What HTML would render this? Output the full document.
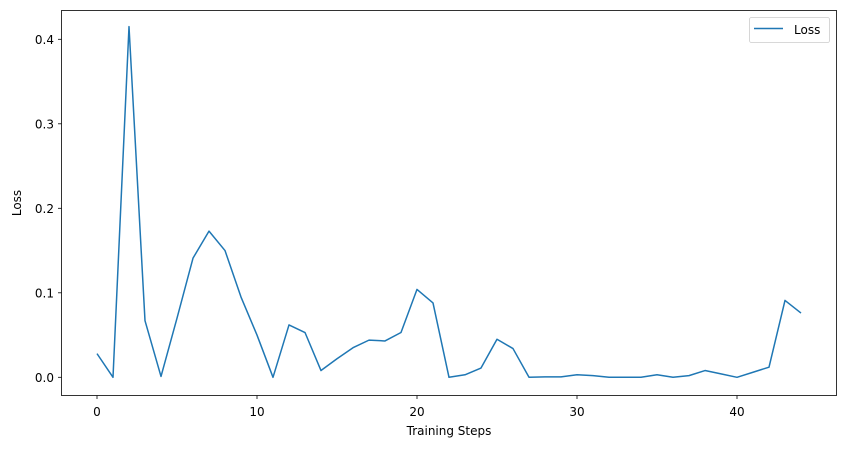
<!DOCTYPE html>
<html><head><meta charset="utf-8"><style>
html,body{margin:0;padding:0;background:#fff;}
svg text{font-family:"DejaVu Sans","Liberation Sans",sans-serif;font-size:12px;fill:#000;}
</style></head><body>
<svg width="846" height="448" viewBox="0 0 846 448">
<rect x="0" y="0" width="846" height="448" fill="#fff"/>
<g id="xt"></g>
<g id="yt"></g>
<polyline id="line" fill="none" stroke="#1f77b4" stroke-width="1.5" stroke-linejoin="round"/>
<rect x="61.5" y="10.5" width="775" height="385" fill="none" stroke="#000" stroke-width="0.8"/>
<text x="449" y="435" text-anchor="middle">Training Steps</text>
<text transform="translate(21,203) rotate(-90)" text-anchor="middle">Loss</text>
<g>
<rect x="749.5" y="17.5" width="80" height="25" rx="2" fill="#fff" stroke="#ccc" stroke-width="0.8"/>
<line x1="754" y1="28.5" x2="783" y2="28.5" stroke="#1f77b4" stroke-width="1.5"/>
<text x="794" y="34">Loss</text>
</g>
</svg>
<script>
const steps = [0,1,2,3,4,5,6,7,8,9,10,11,12,13,14,15,16,17,18,19,20,21,22,23,24,25,26,27,28,29,30,31,32,33,34,35,36,37,38,39,40,41,42,43,44];
const lossValues = [0.028,0,0.415,0.067,0.001,0.07,0.141,0.173,0.150,0.095,0.05,0,0.062,0.053,0.008,0.022,0.035,0.044,0.043,0.053,0.104,0.088,0,0.003,0.011,0.045,0.034,0,0.0005,0.0005,0.003,0.002,0,0,0,0.003,0,0.002,0.008,0.004,0,0.006,0.012,0.091,0.076];
const xTicks = [0,10,20,30,40];
const yTicks = [0.0,0.1,0.2,0.3,0.4];
const yTickLabels = ["0.0","0.1","0.2","0.3","0.4"];
const NS="http://www.w3.org/2000/svg";
function xs(v){return 97+v*16;}
function ys(v){return 377.3-v*845;}
const line=document.getElementById('line');
line.setAttribute('points', steps.map((s,i)=>xs(s)+','+ys(lossValues[i])).join(' '));
const xt=document.getElementById('xt');
xTicks.forEach(t=>{
  const l=document.createElementNS(NS,'line');
  l.setAttribute('x1',xs(t));l.setAttribute('x2',xs(t));l.setAttribute('y1',395.5);l.setAttribute('y2',399);
  l.setAttribute('stroke','#000');l.setAttribute('stroke-width','0.8');
  
  
  xt.appendChild(l);
  const tx=document.createElementNS(NS,'text');
  tx.setAttribute('x',xs(t));tx.setAttribute('y',416);tx.setAttribute('text-anchor','middle');
  tx.textContent=String(t);
  
  
  xt.appendChild(tx);
});
const yt=document.getElementById('yt');
yTicks.forEach((t,i)=>{
  const l=document.createElementNS(NS,'line');
  l.setAttribute('x1',58);l.setAttribute('x2',61.5);l.setAttribute('y1',ys(t));l.setAttribute('y2',ys(t));
  l.setAttribute('stroke','#000');l.setAttribute('stroke-width','0.8');
  
  
  yt.appendChild(l);
  const tx=document.createElementNS(NS,'text');
  tx.setAttribute('x',54);tx.setAttribute('y',ys(t)+4.5);tx.setAttribute('text-anchor','end');
  tx.textContent=yTickLabels[i];
  
  
  yt.appendChild(tx);
});
</script>
</body></html>
